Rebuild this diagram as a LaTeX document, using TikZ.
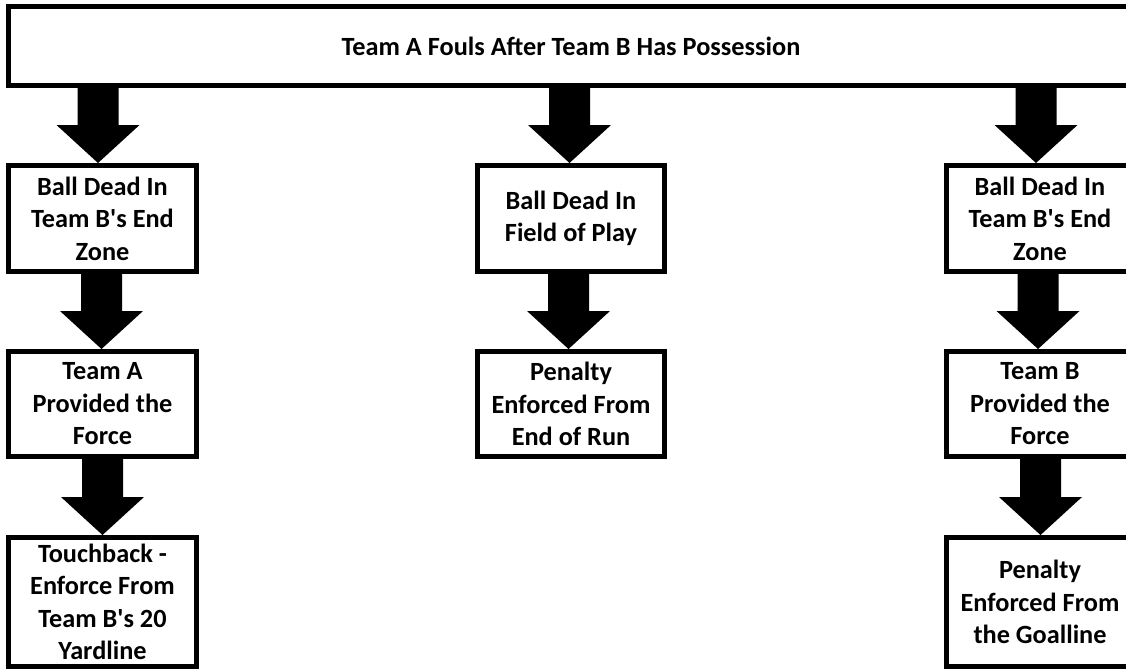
\documentclass[tikz,border=0pt]{standalone}
\usepackage{fontspec}
\setmainfont{Carlito}
\usetikzlibrary{calc}
\tikzset{
  box/.style={draw=black, line width=5pt, fill=white, align=center, inner sep=0pt,
    font=\fontsize{26.3}{32.5}\selectfont\bfseries},
  arrowfill/.style={fill=black},
}
\newcommand\blockarrow[3][0]{%
  \fill[arrowfill] let \p1=(#2.south), \p3=([xshift=#1pt]#3.north) in
    (\x3-20.5pt,\y1+5pt) -- (\x3+20.5pt,\y1+5pt) -- (\x3+20.5pt,\y3+38pt) --
    (\x3+41.5pt,\y3+38pt) -- (\x3,\y3) -- (\x3-41.5pt,\y3+38pt) --
    (\x3-20.5pt,\y3+38pt) -- cycle;}
\begin{document}
\begin{tikzpicture}[x=1pt,y=-1pt]
\useasboundingbox (0,0) rectangle (1126,670);
\clip (0,0) rectangle (1126,670);
\fill[white] (0,0) rectangle (1126,670);

\node[box, minimum width=1125pt, minimum height=79pt] (top) at (571,46)
  {Team A Fouls After Team B Has Possession};

% left column
\node[box, minimum width=188pt, minimum height=106pt] (L1) at (102.5,218.5)
  {Ball Dead In\\Team B\textquotesingle s End\\Zone};
\node[box, minimum width=188pt, minimum height=105pt] (L2) at (102.5,404)
  {Team A\\Provided the\\Force};
\node[box, minimum width=188pt, minimum height=129pt] (L3) at (102.5,602)
  {Touchback -\\Enforce From\\Team B\textquotesingle s 20\\Yardline};

% middle column
\node[box, minimum width=187pt, minimum height=106pt] (M1) at (571,218.5)
  {Ball Dead In\\Field of Play};
\node[box, minimum width=187pt, minimum height=105pt] (M2) at (571,404)
  {Penalty\\Enforced From\\End of Run};

% right column
\node[box, minimum width=188pt, minimum height=106pt] (R1) at (1040,218.5)
  {Ball Dead In\\Team B\textquotesingle s End\\Zone};
\node[box, minimum width=188pt, minimum height=105pt] (R2) at (1040,404)
  {Team B\\Provided the\\Force};
\node[box, minimum width=188pt, minimum height=129pt] (R3) at (1040,602)
  {Penalty\\Enforced From\\the Goalline};

% block arrows
\blockarrow[-4.5]{top}{L1}
\blockarrow[-1]{L1}{L2}
\blockarrow[0]{L2}{L3}
\blockarrow[-1.5]{top}{M1}
\blockarrow[-2.5]{M1}{M2}
\blockarrow[-4]{top}{R1}
\blockarrow[-2]{R1}{R2}
\blockarrow[0.5]{R2}{R3}
\end{tikzpicture}
\end{document}
